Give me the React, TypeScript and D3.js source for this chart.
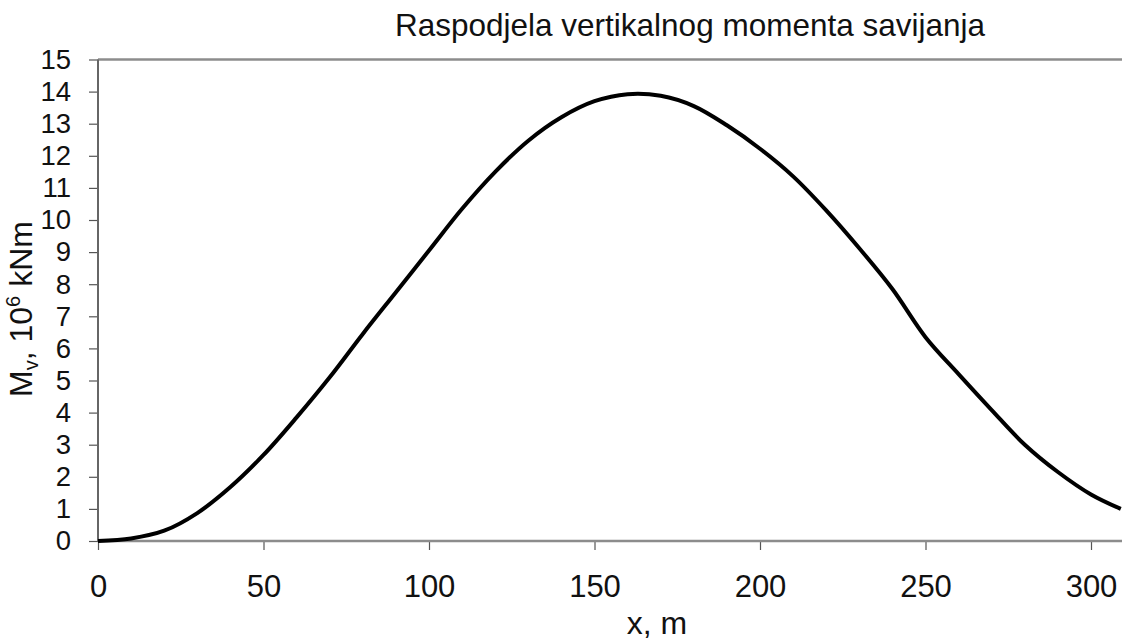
import React, { useEffect, useRef } from 'react'
import * as d3 from 'd3'

// x position along the ship, m
const positions = [0, 10, 20, 30, 40, 50, 60, 70, 80, 90, 100, 110, 120, 130, 140, 150, 160, 170, 180, 190, 200, 210, 220, 230, 240, 250, 260, 270, 280, 290, 300, 309]
// vertical bending moment, 10^6 kNm
const moments = [0, 0.08, 0.32, 0.87, 1.68, 2.68, 3.85, 5.1, 6.45, 7.75, 9.05, 10.35, 11.5, 12.47, 13.2, 13.7, 13.92, 13.87, 13.55, 12.95, 12.22, 11.36, 10.3, 9.12, 7.85, 6.35, 5.2, 4.08, 3.0, 2.15, 1.45, 1.0]
const xTicks = [0, 50, 100, 150, 200, 250, 300]
const yTicks = d3.range(0, 16)

const W = 1122
const H = 644
const font = '"Liberation Sans", Arial, sans-serif'

export default function App() {
  const ref = useRef<SVGSVGElement>(null)

  useEffect(() => {
    if (!ref.current) return
    const svg = d3.select(ref.current)
    svg.selectAll('*').remove()

    const left = 98
    const top = 59.5
    const bottom = 541

    const x = d3.scaleLinear().domain([0, 300]).range([left, left + 993])
    const y = d3.scaleLinear().domain([0, 15]).range([bottom, top])

    // top frame line
    svg.append('line')
      .attr('x1', left).attr('x2', W)
      .attr('y1', top).attr('y2', top)
      .attr('stroke', '#8c8c8c').attr('stroke-width', 2.5)

    // x axis
    const xa = svg.append('g').attr('transform', `translate(0,${bottom})`)
      .call(d3.axisBottom(x).tickValues(xTicks).tickSize(9).tickSizeOuter(0).tickPadding(25))
    xa.select('.domain').remove()
    xa.append('line')
      .attr('x1', left).attr('x2', W)
      .attr('stroke', '#8c8c8c').attr('stroke-width', 2.5)
    xa.selectAll('.tick line').attr('stroke', '#555').attr('stroke-width', 1.2)
    xa.selectAll('.tick text')
      .attr('font-family', font).attr('font-size', 31).attr('fill', '#111')
      .attr('dy', '0.72em')

    // y axis (labels kept just under the 32px tick spacing)
    const ya = svg.append('g').attr('transform', `translate(${left},0)`)
      .call(d3.axisLeft(y).tickValues(yTicks).tickSize(9).tickSizeOuter(0).tickPadding(18))
    ya.select('.domain').remove()
    ya.append('line')
      .attr('y1', top).attr('y2', bottom)
      .attr('stroke', '#666').attr('stroke-width', 2)
    ya.selectAll('.tick line').attr('stroke', '#555').attr('stroke-width', 1.2)
    ya.selectAll('.tick text')
      .attr('font-family', font).attr('font-size', 27.5).attr('fill', '#111')

    // curve
    const pts = positions.map((p, i) => [p, moments[i]] as [number, number])
    const line = d3.line<[number, number]>()
      .x(d => x(d[0]))
      .y(d => y(d[1]))
      .curve(d3.curveCatmullRom.alpha(0.5))
    svg.append('path')
      .attr('d', line(pts) as string)
      .attr('fill', 'none')
      .attr('stroke', '#000')
      .attr('stroke-width', 4)
      .attr('stroke-linejoin', 'round')

    // title
    svg.append('text')
      .attr('x', 690).attr('y', 36)
      .attr('text-anchor', 'middle')
      .attr('font-family', font).attr('font-size', 31.5).attr('fill', '#111')
      .text('Raspodjela vertikalnog momenta savijanja')

    // x label
    svg.append('text')
      .attr('x', 657).attr('y', 634)
      .attr('text-anchor', 'middle')
      .attr('font-family', font).attr('font-size', 32).attr('fill', '#111')
      .text('x, m')

    // y label
    const yl = svg.append('text')
      .attr('transform', 'translate(32,309) rotate(-90)')
      .attr('text-anchor', 'middle')
      .attr('font-family', font).attr('font-size', 32).attr('fill', '#111')
    yl.append('tspan').text('M')
    yl.append('tspan').attr('font-size', 20).attr('dy', 6).text('v')
    yl.append('tspan').attr('dy', -6).text(', 10')
    yl.append('tspan').attr('font-size', 20).attr('dy', -12).text('6')
    yl.append('tspan').attr('dy', 12).text(' kNm')
  }, [])

  return (
    <svg ref={ref} width={W} height={H}
      style={{ position: 'absolute', left: 0, top: 0, background: '#fff' }} />
  )
}
